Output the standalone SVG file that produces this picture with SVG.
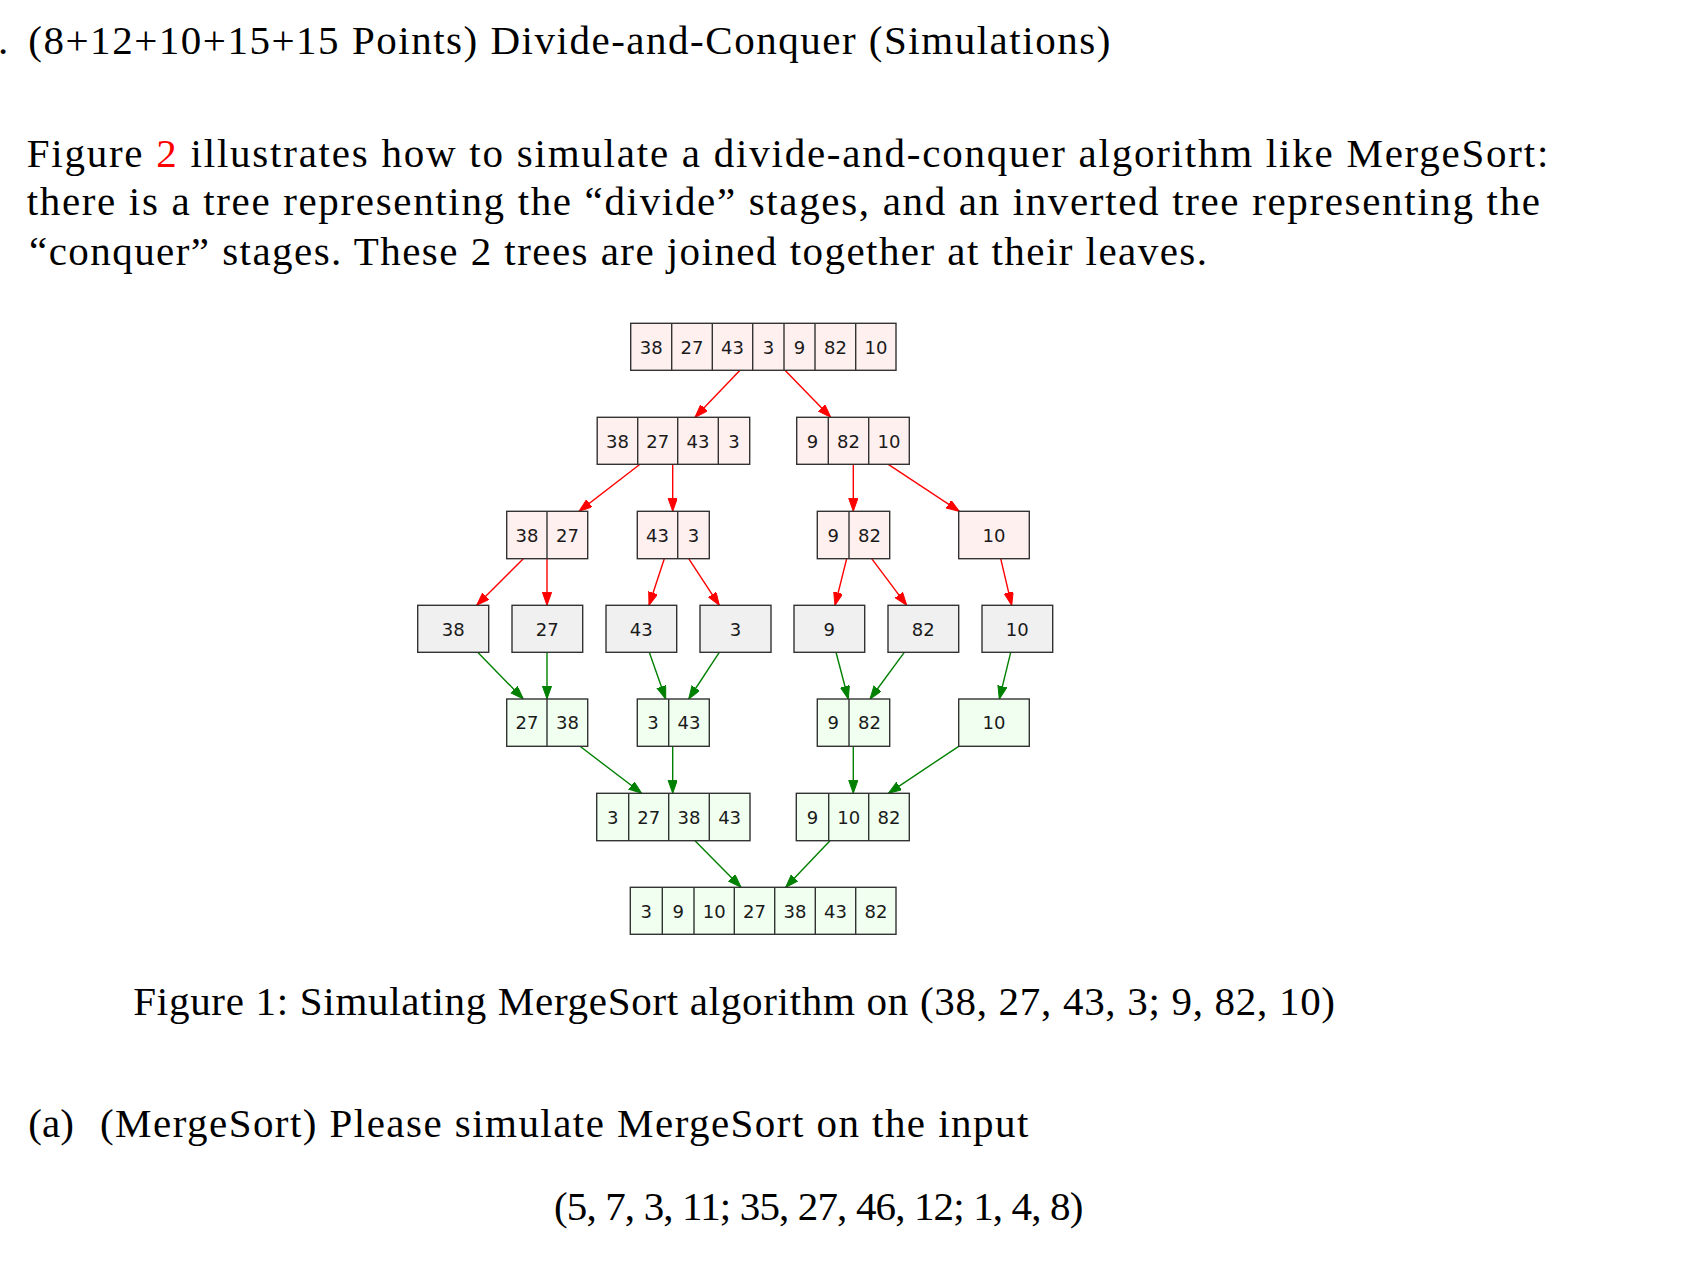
<svg xmlns="http://www.w3.org/2000/svg" width="1700" height="1262" viewBox="0 0 1700 1262">
<style>
.doc{font-family:"Liberation Serif","Times New Roman",serif;font-size:41px;fill:#000}
.box{stroke:#333;stroke-width:1.4}
.div{stroke:#333;stroke-width:1.4}
.pink{fill:#fff0f0}
.grey{fill:#f0f0f0}
.grn{fill:#f0fff0}
.lbl{font-family:"DejaVu Sans","Liberation Sans",sans-serif;font-size:18px;fill:#1a1a1a;text-anchor:middle}
.red{stroke:#ff0000;stroke-width:1.4;fill:none;marker-end:url(#ar)}
.green{stroke:#008000;stroke-width:1.4;fill:none;marker-end:url(#ag)}
</style>
<defs>
<marker id="ar" markerUnits="userSpaceOnUse" markerWidth="14" markerHeight="10" refX="13" refY="4.6" orient="auto"><path d="M0,0 L13,4.6 L0,9.2 z" fill="#ff0000" stroke="#ff0000" stroke-width="1"/></marker>
<marker id="ag" markerUnits="userSpaceOnUse" markerWidth="14" markerHeight="10" refX="13" refY="4.6" orient="auto"><path d="M0,0 L13,4.6 L0,9.2 z" fill="#008000" stroke="#008000" stroke-width="1"/></marker>
</defs>
<rect width="1700" height="1262" fill="#fff"/>

<g id="text">
<text class="doc" x="-2" y="54">.</text>
<text class="doc" x="28.3" y="54.3" textLength="1082" lengthAdjust="spacing">(8+12+10+15+15 Points) Divide-and-Conquer (Simulations)</text>
<text class="doc" x="26.7" y="166.7" textLength="1521.6" lengthAdjust="spacing">Figure <tspan fill="#ff0000">2</tspan> illustrates how to simulate a divide-and-conquer algorithm like MergeSort:</text>
<text class="doc" x="26.7" y="215" textLength="1513.3" lengthAdjust="spacing">there is a tree representing the “divide” stages, and an inverted tree representing the</text>
<text class="doc" x="29" y="265" textLength="1178" lengthAdjust="spacing">“conquer” stages. These 2 trees are joined together at their leaves.</text>
<text class="doc" x="133.3" y="1015" textLength="1201.7" lengthAdjust="spacing">Figure 1: Simulating MergeSort algorithm on (38, 27, 43, 3; 9, 82, 10)</text>
<text class="doc" x="28.3" y="1136.7">(a)</text>
<text class="doc" x="100" y="1136.7" textLength="928.3" lengthAdjust="spacing">(MergeSort) Please simulate MergeSort on the input</text>
<text class="doc" x="554" y="1220" textLength="529.3" lengthAdjust="spacing">(5, 7, 3, 11; 35, 27, 46, 12; 1, 4, 8)</text>
</g>

<g id="connectors">
<path class="red" d="M740,370.3 L695,417.3"/>
<path class="red" d="M785,370.3 L830.7,417.3"/>
<path class="red" d="M640,464.3 L579,511.3"/>
<path class="red" d="M672.7,464.3 L672.7,511.3"/>
<path class="red" d="M853.3,464.3 L853.3,511.3"/>
<path class="red" d="M888.3,464.3 L959.3,511.3"/>
<path class="red" d="M523.3,558.7 L476.7,605.3"/>
<path class="red" d="M547,558.7 L547,605.3"/>
<path class="red" d="M664.3,558.7 L649,605.3"/>
<path class="red" d="M688.7,558.7 L719.3,605.3"/>
<path class="red" d="M846.7,558.7 L835,605.3"/>
<path class="red" d="M871.7,558.7 L906.7,605.3"/>
<path class="red" d="M1000.7,558.7 L1011.7,605.3"/>
<path class="green" d="M477.7,652.3 L523.3,699"/>
<path class="green" d="M547,652.3 L547,699"/>
<path class="green" d="M649.3,652.3 L665.7,699"/>
<path class="green" d="M719.3,652.3 L688.7,699"/>
<path class="green" d="M836,652.3 L848.3,699"/>
<path class="green" d="M904.3,652.3 L870,699"/>
<path class="green" d="M1010.7,652.3 L999.3,699"/>
<path class="green" d="M580,746.3 L641.7,793.3"/>
<path class="green" d="M672.7,746.3 L672.7,793.3"/>
<path class="green" d="M853.3,746.3 L853.3,793.3"/>
<path class="green" d="M958.7,746.3 L888.3,793.3"/>
<path class="green" d="M695,840.7 L741,887.3"/>
<path class="green" d="M830,840.7 L785.7,887.3"/>
</g>

<!-- Level 1 -->
<g id="n1">
<rect class="box pink" x="630.7" y="323.3" width="265.3" height="47"/>
<path class="div" d="M671.7,323.3V370.3M712.3,323.3V370.3M752.7,323.3V370.3M784,323.3V370.3M815,323.3V370.3M855.7,323.3V370.3"/>
<text class="lbl" x="651.2" y="353.5">38</text><text class="lbl" x="692" y="353.5">27</text><text class="lbl" x="732.5" y="353.5">43</text><text class="lbl" x="768.4" y="353.5">3</text><text class="lbl" x="799.5" y="353.5">9</text><text class="lbl" x="835.4" y="353.5">82</text><text class="lbl" x="875.9" y="353.5">10</text>
</g>

<!-- Level 2 -->
<g id="n2a">
<rect class="box pink" x="597.2" y="417.3" width="152.5" height="47"/>
<path class="div" d="M637.7,417.3V464.3M677.7,417.3V464.3M718.3,417.3V464.3"/>
<text class="lbl" x="617.5" y="447.5">38</text><text class="lbl" x="657.7" y="447.5">27</text><text class="lbl" x="698" y="447.5">43</text><text class="lbl" x="734" y="447.5">3</text>
</g>
<g id="n2b">
<rect class="box pink" x="796.7" y="417.3" width="112.6" height="47"/>
<path class="div" d="M828.3,417.3V464.3M868.7,417.3V464.3"/>
<text class="lbl" x="812.5" y="447.5">9</text><text class="lbl" x="848.5" y="447.5">82</text><text class="lbl" x="889" y="447.5">10</text>
</g>

<!-- Level 3 -->
<g id="n3a">
<rect class="box pink" x="506.7" y="511.3" width="81" height="47.4"/>
<path class="div" d="M547,511.3V558.7"/>
<text class="lbl" x="526.9" y="541.7">38</text><text class="lbl" x="567.4" y="541.7">27</text>
</g>
<g id="n3b">
<rect class="box pink" x="637.3" y="511.3" width="72" height="47.4"/>
<path class="div" d="M677.7,511.3V558.7"/>
<text class="lbl" x="657.5" y="541.7">43</text><text class="lbl" x="693.5" y="541.7">3</text>
</g>
<g id="n3c">
<rect class="box pink" x="817.3" y="511.3" width="72.4" height="47.4"/>
<path class="div" d="M849,511.3V558.7"/>
<text class="lbl" x="833.2" y="541.7">9</text><text class="lbl" x="869.4" y="541.7">82</text>
</g>
<g id="n3d">
<rect class="box pink" x="958.7" y="511.3" width="70.6" height="47.4"/>
<text class="lbl" x="994" y="541.7">10</text>
</g>

<!-- Level 4 -->
<g id="n4a"><rect class="box grey" x="417.7" y="605.3" width="71" height="47"/><text class="lbl" x="453.2" y="635.5">38</text></g>
<g id="n4b"><rect class="box grey" x="512" y="605.3" width="70.7" height="47"/><text class="lbl" x="547.3" y="635.5">27</text></g>
<g id="n4c"><rect class="box grey" x="606" y="605.3" width="70.7" height="47"/><text class="lbl" x="641.3" y="635.5">43</text></g>
<g id="n4d"><rect class="box grey" x="700" y="605.3" width="71" height="47"/><text class="lbl" x="735.5" y="635.5">3</text></g>
<g id="n4e"><rect class="box grey" x="794" y="605.3" width="70.7" height="47"/><text class="lbl" x="829.3" y="635.5">9</text></g>
<g id="n4f"><rect class="box grey" x="888" y="605.3" width="70.7" height="47"/><text class="lbl" x="923.3" y="635.5">82</text></g>
<g id="n4g"><rect class="box grey" x="982" y="605.3" width="70.7" height="47"/><text class="lbl" x="1017.3" y="635.5">10</text></g>

<!-- Level 5 -->
<g id="n5a">
<rect class="box grn" x="506.7" y="699" width="81" height="47.3"/>
<path class="div" d="M547,699V746.3"/>
<text class="lbl" x="526.9" y="729.3">27</text><text class="lbl" x="567.4" y="729.3">38</text>
</g>
<g id="n5b">
<rect class="box grn" x="637.3" y="699" width="72" height="47.3"/>
<path class="div" d="M668.7,699V746.3"/>
<text class="lbl" x="653" y="729.3">3</text><text class="lbl" x="689" y="729.3">43</text>
</g>
<g id="n5c">
<rect class="box grn" x="817.3" y="699" width="72.4" height="47.3"/>
<path class="div" d="M849,699V746.3"/>
<text class="lbl" x="833.2" y="729.3">9</text><text class="lbl" x="869.4" y="729.3">82</text>
</g>
<g id="n5d">
<rect class="box grn" x="958.7" y="699" width="70.6" height="47.3"/>
<text class="lbl" x="994" y="729.3">10</text>
</g>

<!-- Level 6 -->
<g id="n6a">
<rect class="box grn" x="596.7" y="793.3" width="153.3" height="47.4"/>
<path class="div" d="M628.7,793.3V840.7M668.7,793.3V840.7M709.3,793.3V840.7"/>
<text class="lbl" x="612.7" y="823.7">3</text><text class="lbl" x="648.7" y="823.7">27</text><text class="lbl" x="689" y="823.7">38</text><text class="lbl" x="729.6" y="823.7">43</text>
</g>
<g id="n6b">
<rect class="box grn" x="796.3" y="793.3" width="113" height="47.4"/>
<path class="div" d="M828.7,793.3V840.7M868.7,793.3V840.7"/>
<text class="lbl" x="812.5" y="823.7">9</text><text class="lbl" x="848.7" y="823.7">10</text><text class="lbl" x="889" y="823.7">82</text>
</g>

<!-- Level 7 -->
<g id="n7">
<rect class="box grn" x="630.3" y="887.3" width="265.7" height="47"/>
<path class="div" d="M662.3,887.3V934.3M694,887.3V934.3M734.3,887.3V934.3M774.7,887.3V934.3M815.3,887.3V934.3M855.7,887.3V934.3"/>
<text class="lbl" x="646.3" y="917.5">3</text><text class="lbl" x="678.2" y="917.5">9</text><text class="lbl" x="714.2" y="917.5">10</text><text class="lbl" x="754.5" y="917.5">27</text><text class="lbl" x="795" y="917.5">38</text><text class="lbl" x="835.5" y="917.5">43</text><text class="lbl" x="875.9" y="917.5">82</text>
</g>
</svg>
